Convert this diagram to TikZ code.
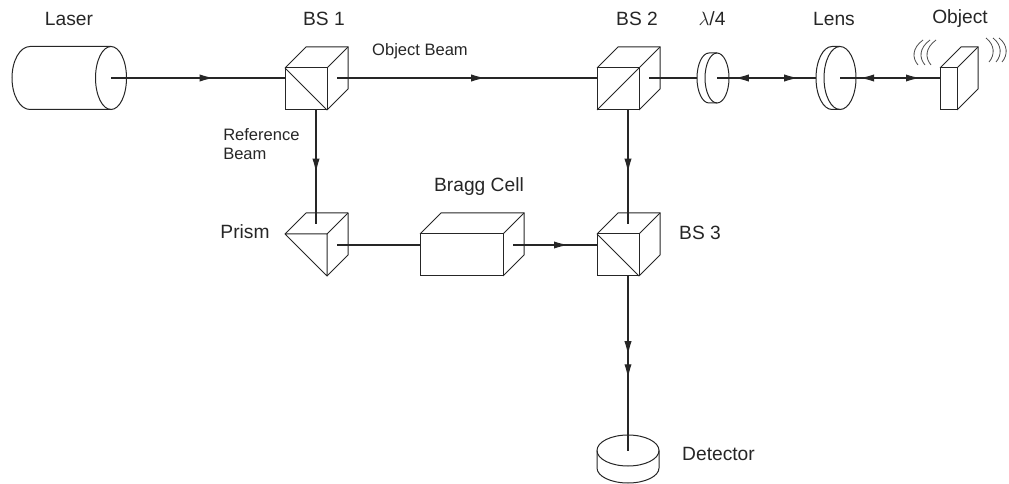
\documentclass[tikz,border=0pt]{standalone}
\usepackage{fontspec}
\setmainfont{Liberation Sans}
\usetikzlibrary{arrows.meta,calc,decorations.markings,shapes.geometric}

% receding edges of a box whose front face is node #1, depth 21
\newcommand{\boxdepth}[1]{
  \draw[edge] (#1.north west) -- ++(21,-21) -- ++($(#1.north east)-(#1.north west)$)
    -- ++(0,42) -- (#1.south east);
  \draw[edge] (#1.north east) -- ++(21,-21);
}

\begin{document}
\begin{tikzpicture}[
    x=0.75pt, y=-0.75pt,
    edge/.style={line width=0.75pt, black!85},
    beam/.style={line width=0.8pt, black!85},
    wave/.style={line width=0.6pt, black!70},
    face/.style={edge, draw, inner sep=0pt, outer sep=0pt, minimum height=31.5pt},
    cube/.style={face, minimum width=31.5pt},
    disc/.style={edge, draw, ellipse, inner sep=0pt, outer sep=0pt},
    title/.style={font=\fontsize{14.4}{17}\selectfont, text=black!85},
    small/.style={font=\fontsize{12.4}{14.5}\selectfont, text=black!85, align=left},
    tip/.style={postaction={decorate, decoration={markings,
        mark=at position #1 with {\arrow{Latex[length=10.5pt,width=5.4pt]}}}}},
    backtip/.style={postaction={decorate, decoration={markings,
        mark=at position #1 with {\arrowreversed{Latex[length=10.5pt,width=5.4pt]}}}}},
]
\useasboundingbox (0,0) rectangle (1009,484);

% Front faces
\node[cube] (BS1) at (306,89) {};
\node[cube] (BS2) at (618,89) {};
\node[cube] (BS3) at (618,255) {};
\node[face, minimum width=62.25pt] (Bragg) at (461.5,255) {};
\node[face, minimum width=12.75pt] (Object) at (948.5,89) {};

\boxdepth{BS1}
\boxdepth{BS2}
\boxdepth{BS3}
\boxdepth{Bragg}
\boxdepth{Object}

% Splitting surfaces
\draw[edge] (BS1.north west) -- (BS1.south east);
\draw[edge] (BS2.south west) -- (BS2.north east);
\draw[edge] (BS3.north west) -- (BS3.south east);

% Prism
\coordinate (Prism top) at (316,224);
\coordinate (Prism exit) at (337,245);
\draw[edge, line join=round] (285,234) -- (327,234) -- (327,276) -- cycle;
\draw[edge, line join=round] (285,234) -- (306,213) -- (348,213) -- (348,255) -- (327,276);
\draw[edge] (327,234) -- (348,213);

% Laser
\node[disc, minimum width=23.25pt, minimum height=47.25pt] (Laser) at (111,78) {};
\draw[edge] (Laser.north) -- (30,46.5)
    arc[start angle=90, end angle=270, x radius=13.5pt, y radius=23.625pt] -- (Laser.south);

% Quarter wave plate and lens
\node[disc, minimum width=18pt, minimum height=37.5pt] (Plate) at (717,78) {};
\draw[edge] (Plate.north) -- (709,53)
    arc[start angle=90, end angle=270, x radius=9pt, y radius=18.75pt] -- (Plate.south);
\node[disc, minimum width=24pt, minimum height=47.25pt] (Lens) at (840,78) {};
\draw[edge] (Lens.north) -- (832,46.5)
    arc[start angle=90, end angle=270, x radius=12pt, y radius=23.625pt] -- (Lens.south);

% Detector
\node[disc, minimum width=46.5pt, minimum height=23.25pt] (Detector) at (628,450.5) {};
\draw[edge] (Detector.west) -- (597,468)
    arc[start angle=180, end angle=360, x radius=23.25pt, y radius=11.25pt] -- (Detector.east);

% Vibrations of the object
\foreach \dx in {0,7,13}
  \draw[wave] (923+\dx,40) .. controls (912+\dx,48) and (912+\dx,58) .. (918+\dx,65);
\foreach \dx in {0,7,13}
  \draw[wave] (986+\dx,38) .. controls (995+\dx,45) and (995+\dx,55) .. (989+\dx,62);

% Beam ends
\coordinate (BS1 in) at (285,78);
\coordinate (BS1 exit) at (337,78);
\coordinate (BS1 down) at (316,110);
\coordinate (BS2 in) at (597,78);
\coordinate (BS2 exit) at (649,78);
\coordinate (BS2 down) at (628,110);
\coordinate (BS3 top) at (628,224);
\coordinate (BS3 in) at (597,245);
\coordinate (BS3 down) at (628,276);
\coordinate (Plate in) at (697,78);
\coordinate (Lens in) at (816,78);
\coordinate (Object in) at (940,78);
\coordinate (Bragg in) at (420,245);
\coordinate (Bragg exit) at (513,245);

% Beams
\draw[beam, tip=0.59] (Laser.center) -- (BS1 in);
\draw[beam, tip=0.57] (BS1 exit) -- (BS2 in);
\draw[beam, tip=0.55] (BS1 down) -- (Prism top);
\draw[beam, tip=0.55] (BS2 down) -- (BS3 top);
\draw[beam] (Prism exit) -- (Bragg in);
\draw[beam, tip=0.655] (Bragg exit) -- (BS3 in);
\draw[beam, tip=0.454, tip=0.586] (BS3 down) -- (Detector.center);
\draw[beam] (BS2 exit) -- (Plate in);
\draw[beam, backtip=0.18, tip=0.82] (Plate.center) -- (Lens in);
\draw[beam, backtip=0.2, tip=0.8] (Lens.center) -- (Object in);

% Labels
\node[title] (Laser label) at (69,19) {Laser};
\node[title] (BS1 label) at (324,19) {BS 1};
\node[title] (BS2 label) at (637,19) {BS 2};
\node[title] (Plate label) at (712,19) {$\lambda$/4};
\node[title] (Lens label) at (834,19) {Lens};
\node[title] (Object label) at (960,19) {Object};
\node[title] (Bragg label) at (479,187) {Bragg Cell};
\node[title] (Prism label) at (245,232) {Prism};
\node[title] (BS3 label) at (700,233) {BS 3};
\node[title] (Detector label) at (718.5,454) {Detector};
\node[small] (Object Beam) at (420,51) {Object Beam};
\node[small, anchor=north west, inner sep=0pt] (Reference Beam) at (223,128) {Reference\\Beam};

\end{tikzpicture}
\end{document}
